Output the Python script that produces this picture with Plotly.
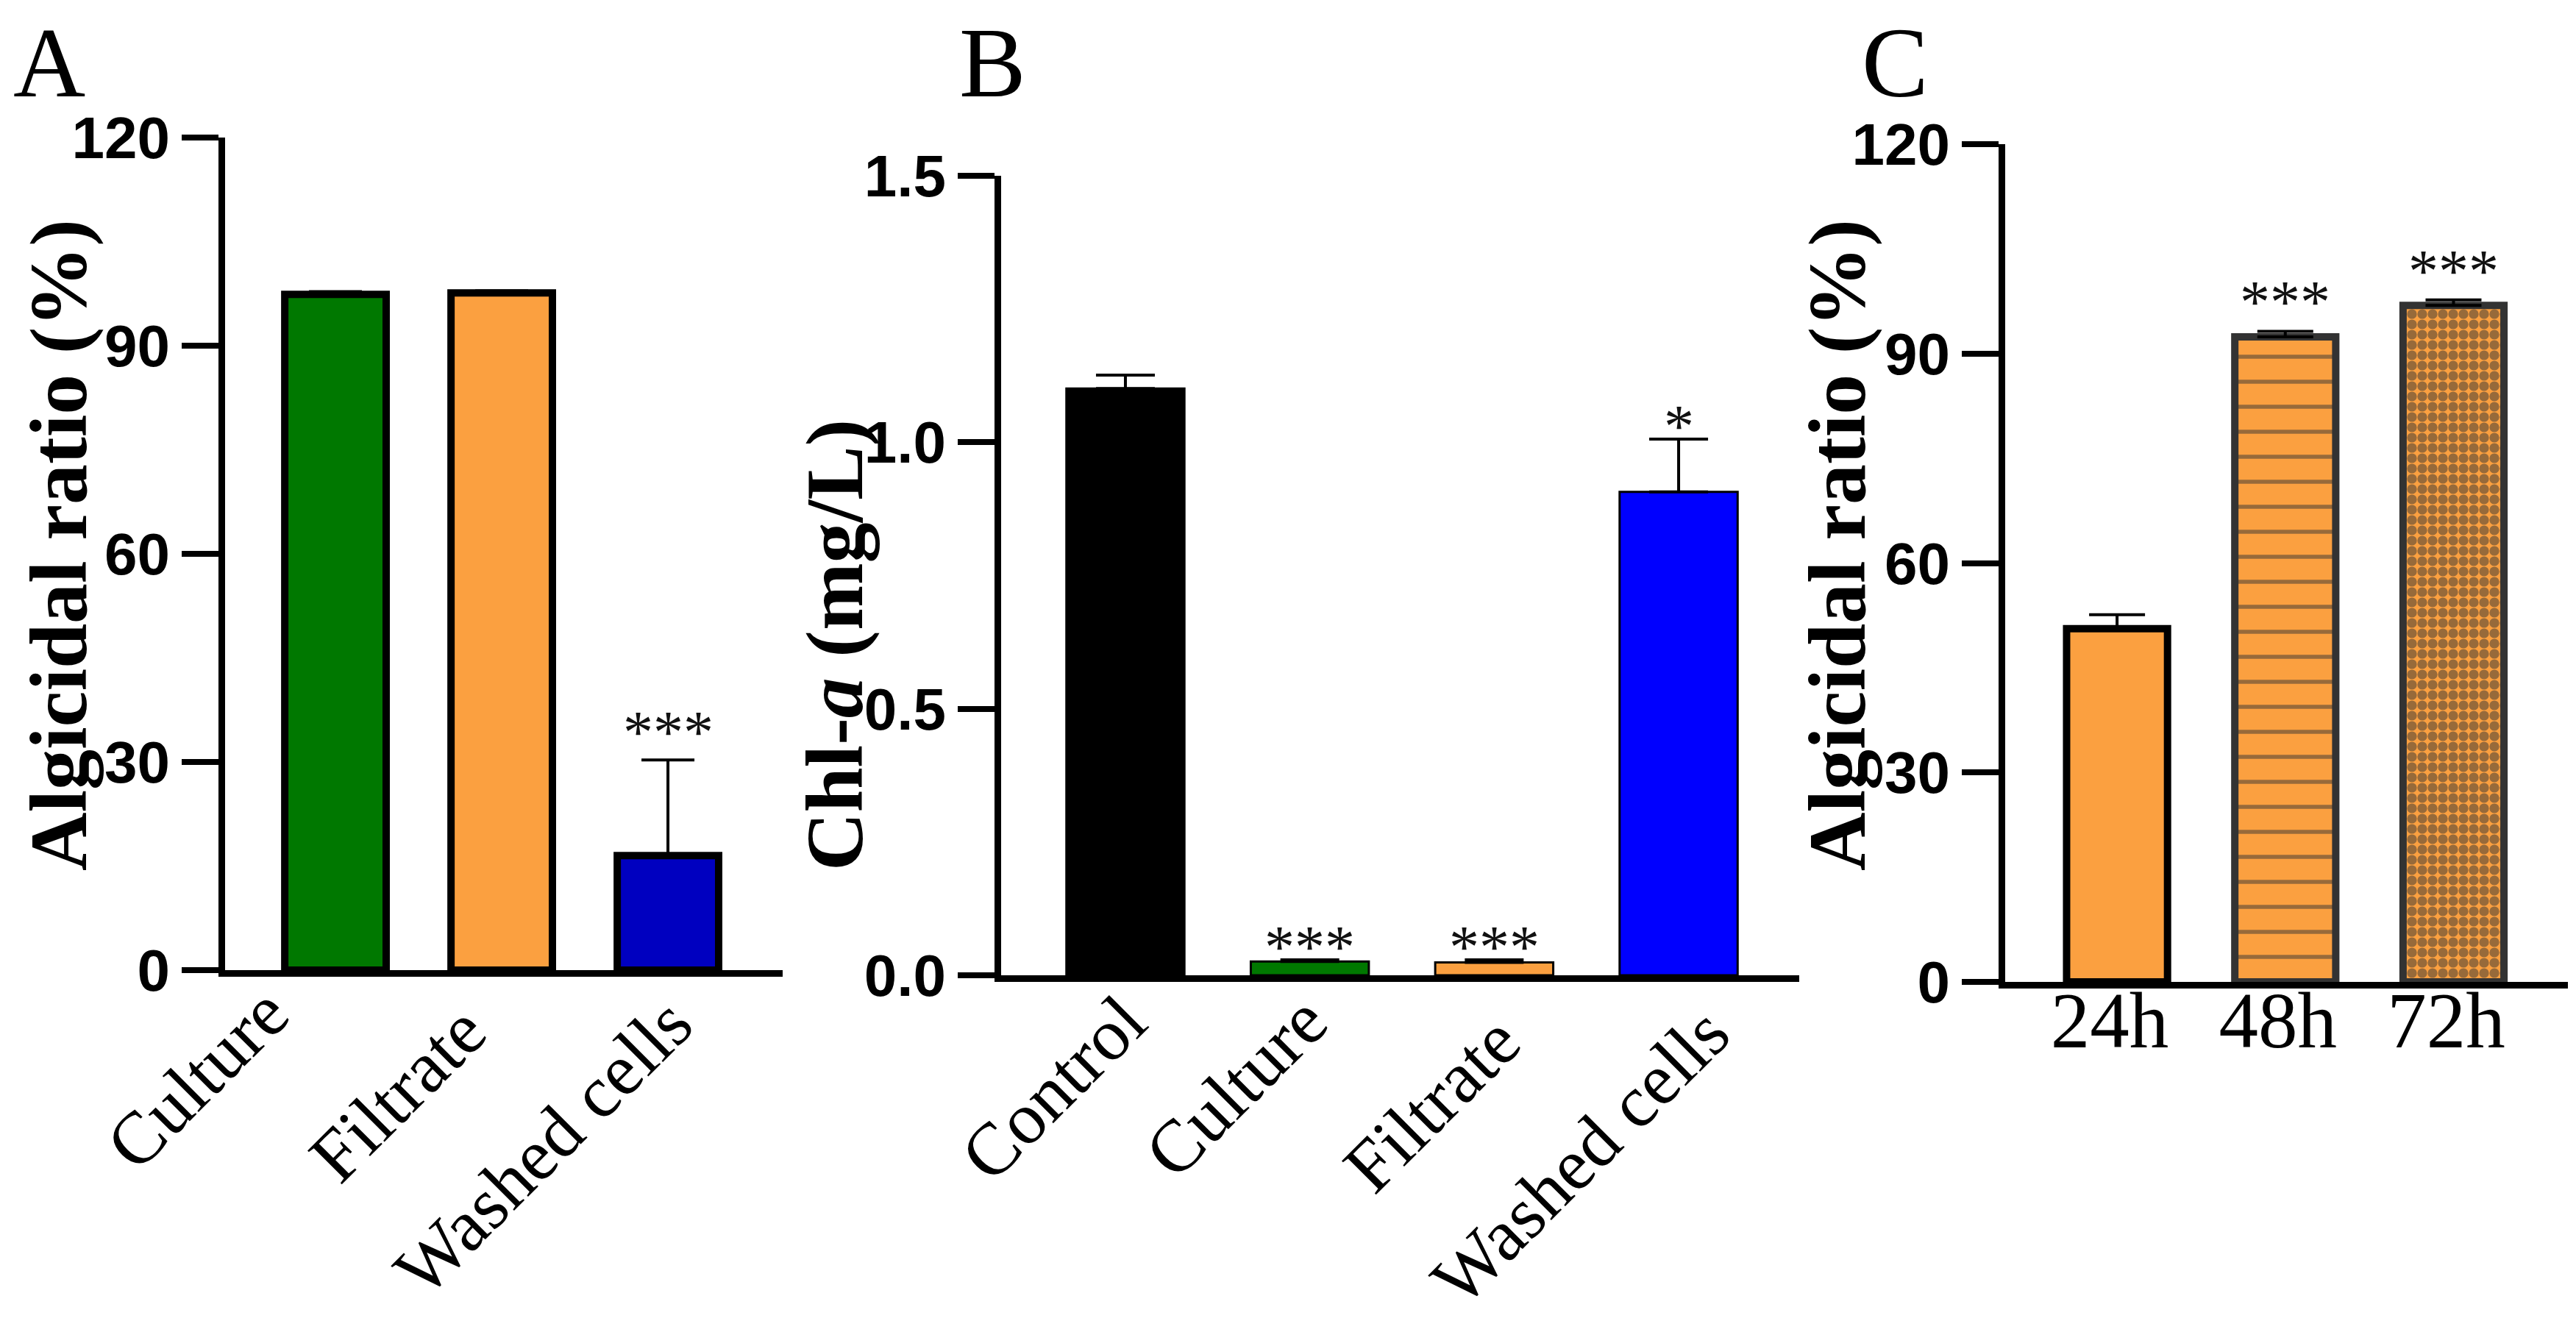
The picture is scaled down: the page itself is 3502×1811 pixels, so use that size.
import plotly.graph_objects as go

# panel A: algicidal ratio by fraction
a_groups = ["Culture", "Filtrate", "Washed cells"]
a_mean = [97.4, 97.6, 16.5]
a_err = [0.4, 0.3, 13.8]
a_sig = ["", "", "***"]
a_colors = ["#007800", "#FBA040", "#0000C0"]

# panel B: chlorophyll-a
b_groups = ["Control", "Culture", "Filtrate", "Washed cells"]
b_mean = [1.101, 0.026, 0.024, 0.907]
b_err = [0.025, 0.003, 0.005, 0.099]
b_sig = ["", "***", "***", "*"]
b_colors = ["#000000", "#007800", "#FBA040", "#0000FF"]

# panel C: algicidal ratio over time
c_groups = ["24h", "48h", "72h"]
c_mean = [50.6, 92.4, 96.9]
c_err = [2.0, 0.8, 0.8]
c_sig = ["", "***", "***"]

W, H = 3502, 1811
SERIF = "Liberation Serif"
SANS = "Liberation Sans"
ORANGE = "#FBA040"

# centres (px) of the slanted category labels
a_label_pos = [(260, 1458), (532, 1479), (730, 1551)]
b_label_pos = [(1424, 1471), (1672, 1469), (1938, 1493), (2140, 1564)]


def px_x(p):
    return p / W


def px_y(p):
    return 1 - p / H


fig = go.Figure()

fig.add_trace(go.Bar(
    x=a_groups, y=a_mean, width=0.61, xaxis="x", yaxis="y",
    marker=dict(color=a_colors, line=dict(color="black", width=10)),
    error_y=dict(type="data", array=a_err, arrayminus=[0] * 3, symmetric=False,
                 color="black", thickness=4, width=36),
))
fig.add_trace(go.Bar(
    x=b_groups, y=b_mean, width=0.64, xaxis="x2", yaxis="y2",
    marker=dict(color=b_colors, line=dict(color="black", width=3)),
    error_y=dict(type="data", array=b_err, arrayminus=[0] * 4, symmetric=False,
                 color="black", thickness=4, width=40),
))
fig.add_trace(go.Bar(
    x=c_groups, y=c_mean, width=0.6, xaxis="x3", yaxis="y3",
    marker=dict(color=ORANGE, line=dict(color=["black", "#333333", "#333333"], width=10),
                pattern=dict(shape=["", "-", "."], fgcolor="#333333", bgcolor=ORANGE,
                             size=[10, 34, 14], solidity=[0.1, 0.16, 0.7])),
    error_y=dict(type="data", array=c_err, arrayminus=[0] * 3, symmetric=False,
                 color="black", thickness=4, width=38),
))

yax = dict(showline=True, linewidth=9, linecolor="black", ticks="outside", ticklen=50,
           tickwidth=8, tickcolor="black", showgrid=False, zeroline=False, automargin=False,
           tickfont=dict(family=SANS, size=80, color="black", weight="bold"))
xax = dict(showline=True, linewidth=9, linecolor="black", ticks="", showgrid=False,
           zeroline=False, type="category", automargin=False)

fig.update_layout(
    width=W, height=H, margin=dict(l=0, r=0, t=0, b=0, autoexpand=False),
    paper_bgcolor="white", plot_bgcolor="white", showlegend=False,
    xaxis=dict(xax, domain=[px_x(298), px_x(1056)], range=[-0.664, 2.69],
               anchor="y", showticklabels=False),
    yaxis=dict(yax, domain=[px_y(1311), px_y(179)], range=[0, 120],
               tickvals=[0, 30, 60, 90, 120], anchor="x"),
    xaxis2=dict(xax, domain=[px_x(1353), px_x(2438)], range=[-0.674, 3.654],
                anchor="y2", showticklabels=False),
    yaxis2=dict(yax, domain=[px_y(1318), px_y(231)], range=[0, 1.5],
                tickvals=[0, 0.5, 1.0, 1.5], tickformat=".1f", anchor="x2"),
    xaxis3=dict(xax, domain=[px_x(2718), px_x(3483)], range=[-0.665, 2.68],
                anchor="y3", tickangle=0, ticklabelstandoff=-48, ticklabelshift=-10,
                tickfont=dict(family=SERIF, size=107, color="black")),
    yaxis3=dict(yax, domain=[px_y(1327), px_y(188)], range=[0, 120],
                tickvals=[0, 30, 60, 90, 120], anchor="x3"),
)

# slanted category labels for panels A and B
for groups, pos in [(a_groups, a_label_pos), (b_groups, b_label_pos)]:
    for g, (cx, cy) in zip(groups, pos):
        fig.add_annotation(x=px_x(cx), y=px_y(cy), xref="paper", yref="paper", text=g,
                           textangle=-45, showarrow=False, xanchor="center", yanchor="middle",
                           font=dict(family=SERIF, size=100, color="black"))

# significance stars above the error bars
for xa, ya, groups, mean, err, sig, shift in [
        ("x", "y", a_groups, a_mean, a_err, a_sig, -10),
        ("x2", "y2", b_groups, b_mean, b_err, b_sig, -30),
        ("x3", "y3", c_groups, c_mean, c_err, c_sig, -8)]:
    for g, m, e, s in zip(groups, mean, err, sig):
        if s:
            fig.add_annotation(x=g, y=m + e, xref=xa, yref=ya, text=s, showarrow=False,
                               yanchor="bottom", yshift=shift,
                               font=dict(family=SERIF, size=82, color="#111111"))

# axis titles
titles = [("<b>Algicidal ratio (%)</b>", 72, 733),
          ("<b>Chl-<i>a</i> (mg/L)</b>", 1127, 869),
          ("<b>Algicidal ratio (%)</b>", 2490, 733)]
for text, cx, cy in titles:
    fig.add_annotation(x=px_x(cx), y=px_y(cy), xref="paper", yref="paper", text=text,
                       textangle=-90, showarrow=False, xanchor="center", yanchor="middle",
                       font=dict(family=SERIF, size=110, color="black"))

# panel letters
for letter, lx in [("A", 8), ("B", 1294), ("C", 2521)]:
    fig.add_annotation(x=px_x(lx), y=1, xref="paper", yref="paper", text=letter,
                       showarrow=False, xanchor="left", yanchor="top",
                       font=dict(family=SERIF, size=136, color="black"))

fig.write_html("out.html")
